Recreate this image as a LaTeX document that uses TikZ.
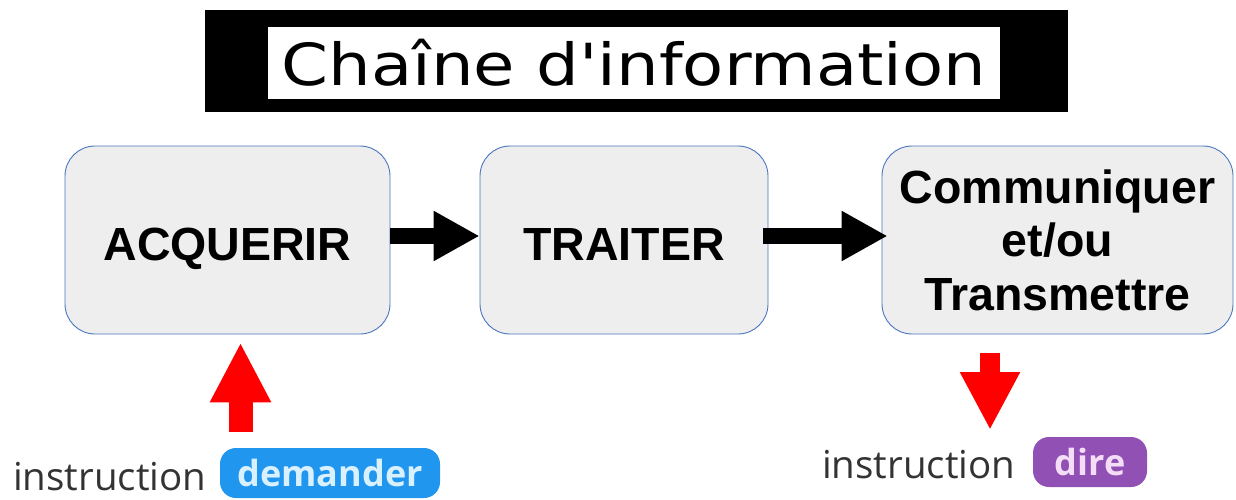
\documentclass[tikz,border=0pt]{standalone}
\usepackage{fontspec}
\setmainfont{Liberation Sans}
\newfontfamily\titlefont{DejaVu Sans}
\newfontfamily\labelfont{Open Sans}
\usetikzlibrary{arrows.meta,calc}
\definecolor{boxfill}{HTML}{EEEEEE}
\definecolor{boxline}{HTML}{4A76BE}
\definecolor{askblue}{HTML}{2196EE}
\definecolor{askfg}{HTML}{D9F1FF}
\definecolor{sayviolet}{HTML}{9150B4}
\definecolor{sayfg}{HTML}{F4DDF7}
\definecolor{labelgray}{HTML}{333333}
\begin{document}
\begin{tikzpicture}[x=1pt,y=-1pt,
  stage/.style={draw=boxline, line width=0.9pt, fill=boxfill, rounded corners=30pt,
    minimum height=188pt, inner sep=0pt, align=center,
    font=\bfseries\fontsize{46.5}{53.5}\selectfont},
  oneline/.style={text height=40pt, text depth=0pt},
  flow/.style={line width=16pt, -{Triangle[length=46pt,width=47pt]}},
  order/.style={red, line width=24pt, -{Triangle[length=60pt,width=57pt]}},
  tag/.style={rounded corners=16pt, inner sep=0pt, minimum height=50pt,
    font=\labelfont\bfseries\fontsize{36}{40}\selectfont},
  caption/.style={font=\labelfont\fontsize{38.5}{42}\selectfont, text=labelgray,
    inner sep=0pt, anchor=base west}]
\useasboundingbox (0,0) rectangle (1236,500);

% title banner
\node[fill=black, minimum width=863pt, minimum height=102pt, inner sep=0pt] (frame) at (636.5,61) {};
\node[fill=white, minimum width=732pt, minimum height=72pt, inner sep=0pt] (title) at (634,63)
  {\titlefont\fontsize{58}{60}\selectfont\scalebox{1.16}[1]{Chaîne d'information}};

% the three stages
\node[stage, oneline, minimum width=325pt] (acq) at (227.5,240) {ACQUERIR};
\node[stage, oneline, minimum width=288pt] (trt) at (624,240) {TRAITER};
\node[stage, minimum width=351pt] (com) at (1057.5,240) {Communiquer\\et/ou\\Transmettre};

% flow between stages
\draw[flow] ([yshift=4pt]acq.east) -- ([yshift=4pt]trt.west);
\draw[flow] ([xshift=-5pt,yshift=4pt]trt.east) -- ([xshift=6pt,yshift=4pt]com.west);

% input and output instructions
\coordinate (askfoot) at (240.5,432);
\draw[order] (askfoot) -- ([xshift=13pt,yshift=-8pt]acq.south);
\coordinate (saytop) at (990,353);
\coordinate (saytip) at (990,430);
\draw[order, line width=20pt, -{Triangle[length=58pt,width=56pt]}] (saytop) -- (saytip);

\node[caption] (ask) at (13,490) {instruction};
\node[tag, fill=askblue, text=askfg, minimum width=220pt] (asktag) at (330,473) {demander};
\node[caption] (say) at (822,478) {instruction};
\node[tag, fill=sayviolet, text=sayfg, minimum width=114pt] (saytag) at (1090,462) {dire};
\end{tikzpicture}
\end{document}
